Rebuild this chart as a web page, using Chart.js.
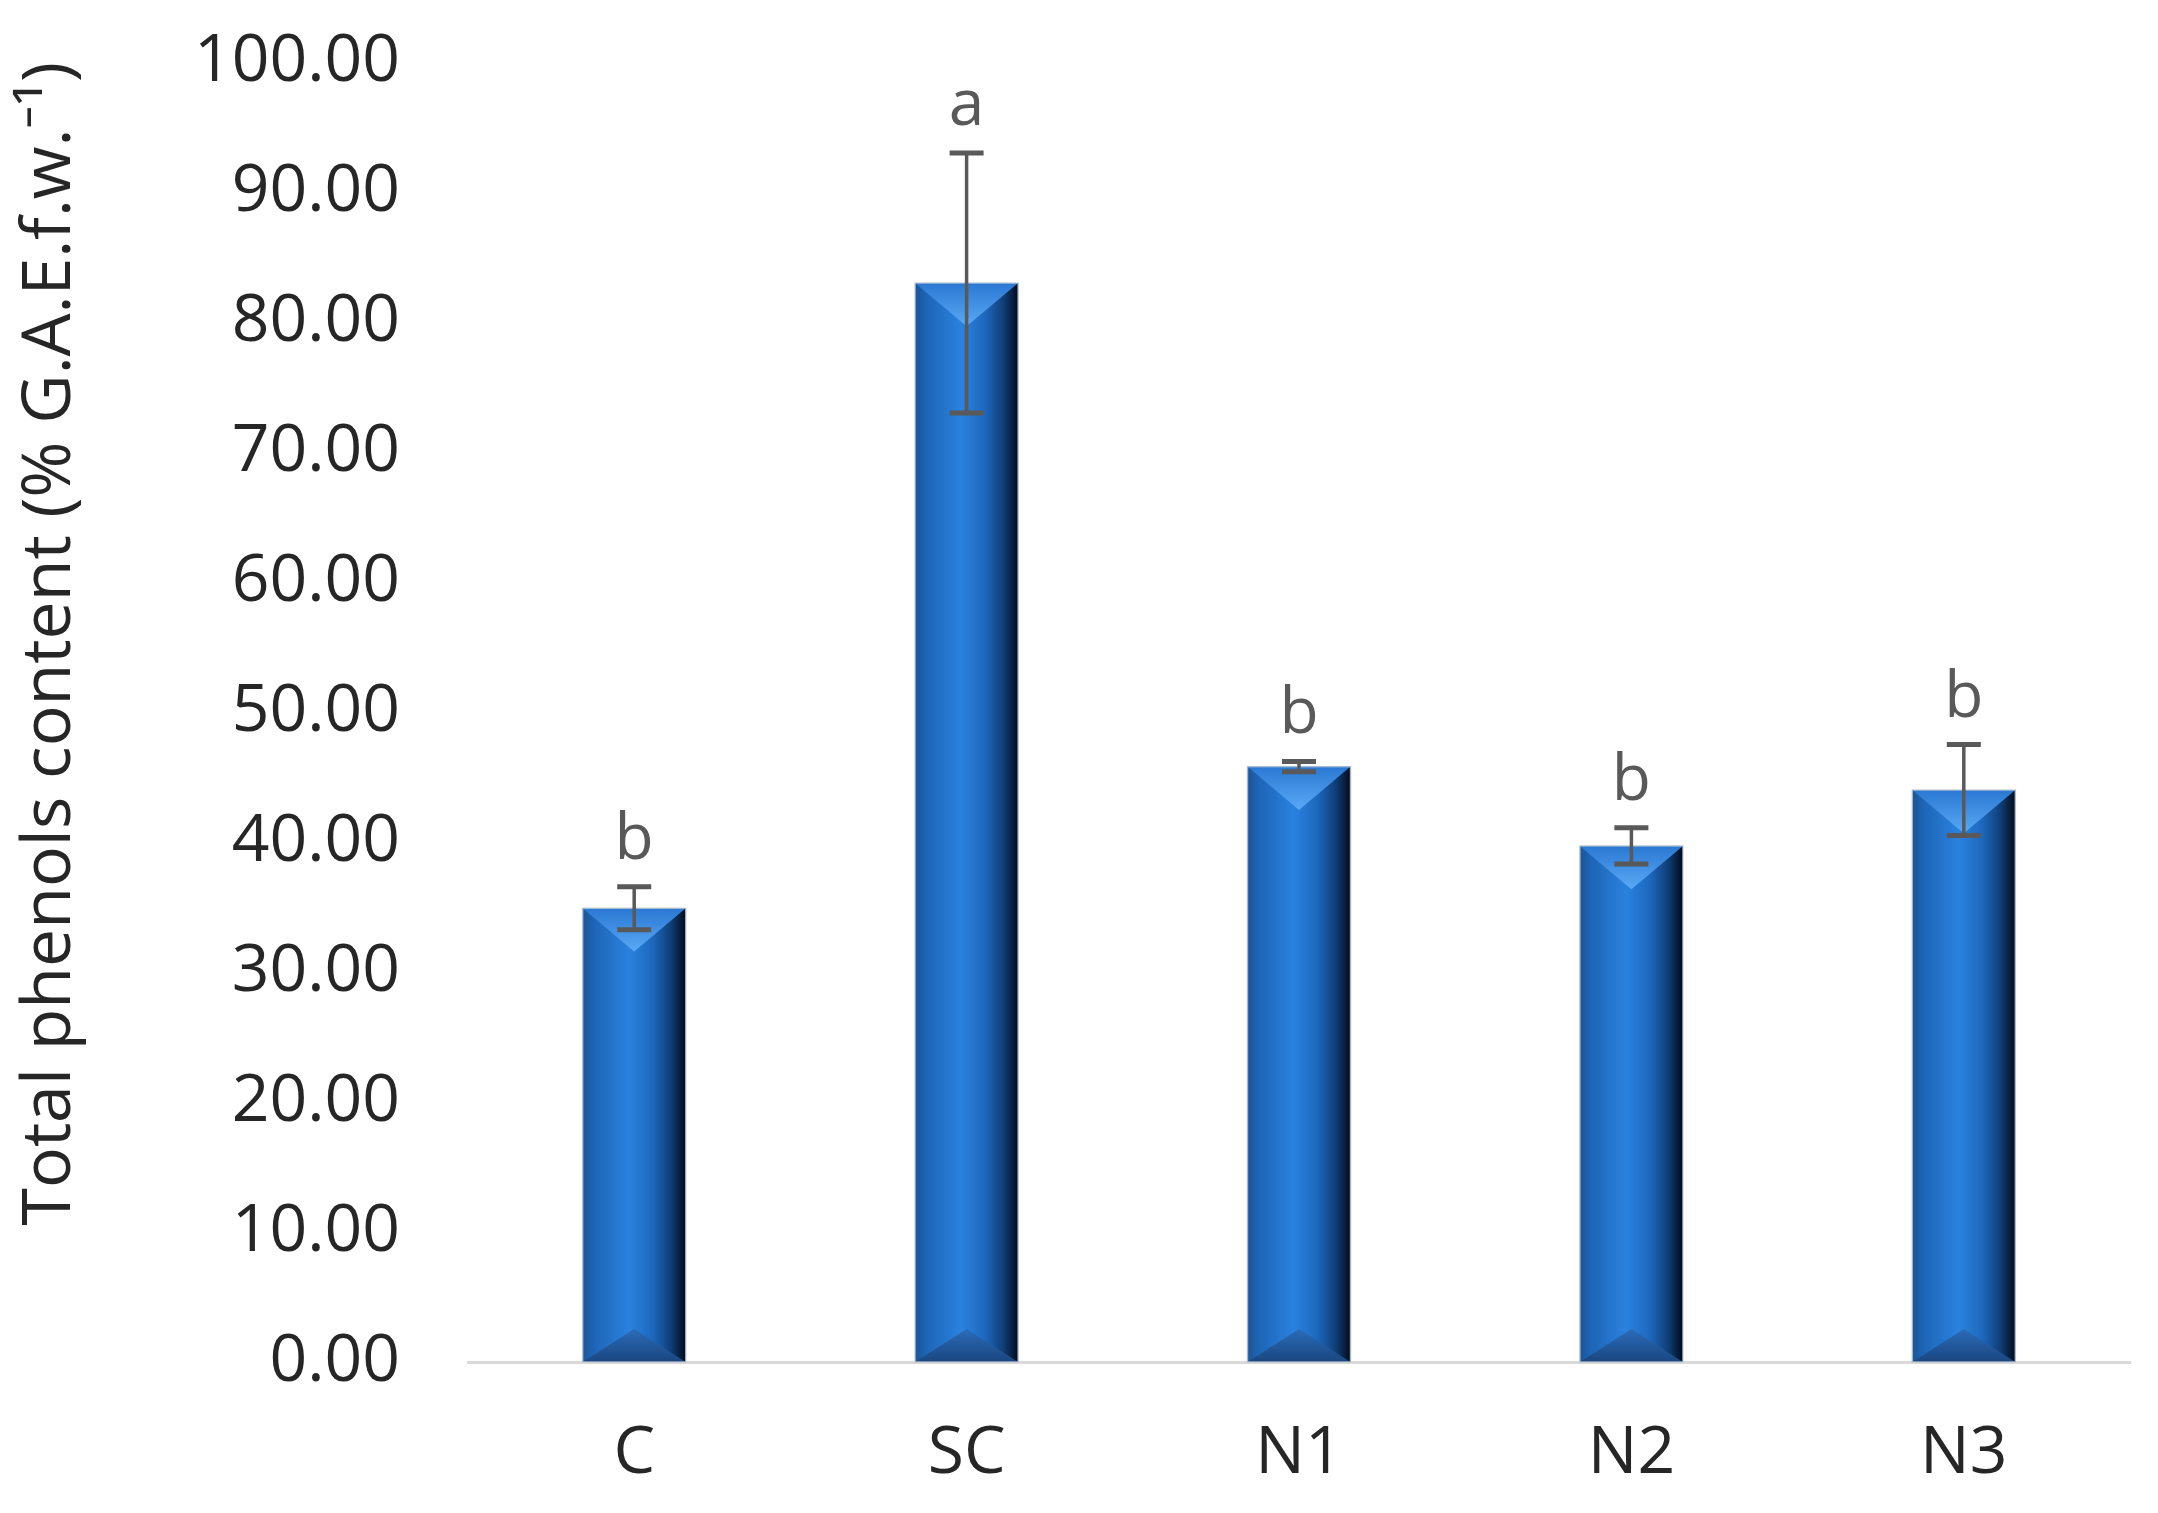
<!DOCTYPE html>
<html>
<head>
<meta charset="utf-8">
<script src="https://cdn.jsdelivr.net/npm/chart.js@4.4.1/dist/chart.umd.min.js"></script>
<style>
  html, body { margin: 0; padding: 0; background: #ffffff; }
  #wrap { width: 2158px; height: 1513px; }
</style>
</head>
<body>
<div id="wrap"><canvas id="c" width="2158" height="1513"></canvas></div>
<script>
// ---- data ----
const categories = ['C', 'SC', 'N1', 'N2', 'N3'];
const values = [34.9, 83.0, 45.8, 39.7, 44.0];
const errors = [1.65, 10.0, 0.4, 1.4, 3.5];
const letters = ['b', 'a', 'b', 'b', 'b'];
const yMin = 0, yMax = 100, yStep = 10;
const yTitle = 'Total phenols content (% G.A.E.f.w.\u207B\u00B9)';

const FONT = '"Open Sans", "Noto Sans", sans-serif';

const decorPlugin = {
  id: 'decor',
  afterDatasetsDraw(chart) {
    const ctx = chart.ctx;
    const meta = chart.getDatasetMeta(0);
    const yScale = chart.scales.y;
    meta.data.forEach((bar, i) => {
      const w = bar.width;
      const left = bar.x - w / 2, right = bar.x + w / 2;
      const top = bar.y, bottom = bar.base;
      ctx.save();
      const g = ctx.createLinearGradient(left, 0, right, 0);
      g.addColorStop(0.0, '#1b5597');
      g.addColorStop(0.12, '#1e66b8');
      g.addColorStop(0.45, '#2a82de');
      g.addColorStop(0.68, '#1d68bd');
      g.addColorStop(0.86, '#0f3d75');
      g.addColorStop(1.0, '#020a1a');
      ctx.fillStyle = g;
      ctx.fillRect(left, top, w, bottom - top);
      const th = Math.min(w * 0.42, (bottom - top) / 2);
      const tg = ctx.createLinearGradient(0, top, 0, top + th);
      tg.addColorStop(0, '#2a78d2');
      tg.addColorStop(1, '#5aa9f6');
      ctx.beginPath();
      ctx.moveTo(left, top);
      ctx.lineTo(right, top);
      ctx.lineTo(bar.x, top + th);
      ctx.closePath();
      ctx.fillStyle = tg;
      ctx.fill();
      const bh = Math.min(w * 0.32, (bottom - top) / 2);
      const bg = ctx.createLinearGradient(0, bottom - bh, 0, bottom);
      bg.addColorStop(0, '#2b6cb8');
      bg.addColorStop(1, '#1a4680');
      ctx.beginPath();
      ctx.moveTo(left, bottom);
      ctx.lineTo(right, bottom);
      ctx.lineTo(bar.x, bottom - bh);
      ctx.closePath();
      ctx.fillStyle = bg;
      ctx.fill();
      ctx.strokeStyle = 'rgba(190,200,210,0.8)';
      ctx.lineWidth = 1.5;
      ctx.strokeRect(left, top, w, bottom - top);
      ctx.restore();

      const yHi = yScale.getPixelForValue(values[i] + errors[i]);
      const yLo = yScale.getPixelForValue(values[i] - errors[i]);
      const cap = 17;
      ctx.save();
      ctx.strokeStyle = '#595959';
      ctx.lineWidth = 3.5;
      ctx.beginPath();
      ctx.moveTo(bar.x, yHi); ctx.lineTo(bar.x, yLo);
      ctx.stroke();
      ctx.lineWidth = 5;
      ctx.beginPath();
      ctx.moveTo(bar.x - cap, yHi); ctx.lineTo(bar.x + cap, yHi);
      ctx.moveTo(bar.x - cap, yLo); ctx.lineTo(bar.x + cap, yLo);
      ctx.stroke();
      ctx.fillStyle = '#595959';
      ctx.font = '64px ' + FONT;
      ctx.textAlign = 'center';
      ctx.textBaseline = 'alphabetic';
      ctx.fillText(letters[i], bar.x, yHi - 28);
      ctx.restore();
    });
  }
};

new Chart(document.getElementById('c'), {
  type: 'bar',
  data: {
    labels: categories,
    datasets: [{
      data: values,
      backgroundColor: '#1f6fc5',
      borderWidth: 0,
      barPercentage: 0.62,
      categoryPercentage: 0.5
    }]
  },
  options: {
    responsive: false,
    animation: false,
    devicePixelRatio: 1,
    layout: { padding: { left: 0, right: 28, top: 62, bottom: 0 } },
    plugins: { legend: { display: false }, tooltip: { enabled: false } },
    scales: {
      x: {
        grid: { display: false, drawTicks: false },
        border: { display: true, color: '#d9d9d9', width: 3 },
        ticks: { color: '#262626', font: { family: FONT, size: 66 }, padding: 53 },
        afterFit(scale) { scale.height = 151; }
      },
      y: {
        min: yMin, max: yMax,
        grid: { display: false, drawTicks: false },
        border: { display: false },
        ticks: {
          stepSize: yStep,
          color: '#262626',
          font: { family: FONT, size: 66 },
          padding: 68,
          callback: (v) => Number(v).toFixed(2)
        },
        title: {
          display: true,
          text: yTitle,
          align: 'end',
          color: '#262626',
          font: { family: FONT, size: 68 },
          padding: { top: 10, bottom: 0 }
        },
        afterFit(scale) {
          scale.width = 468;
          scale.paddingTop = 0;
          scale.paddingBottom = 0;
        }
      }
    }
  },
  plugins: [decorPlugin]
});
</script>
</body>
</html>
